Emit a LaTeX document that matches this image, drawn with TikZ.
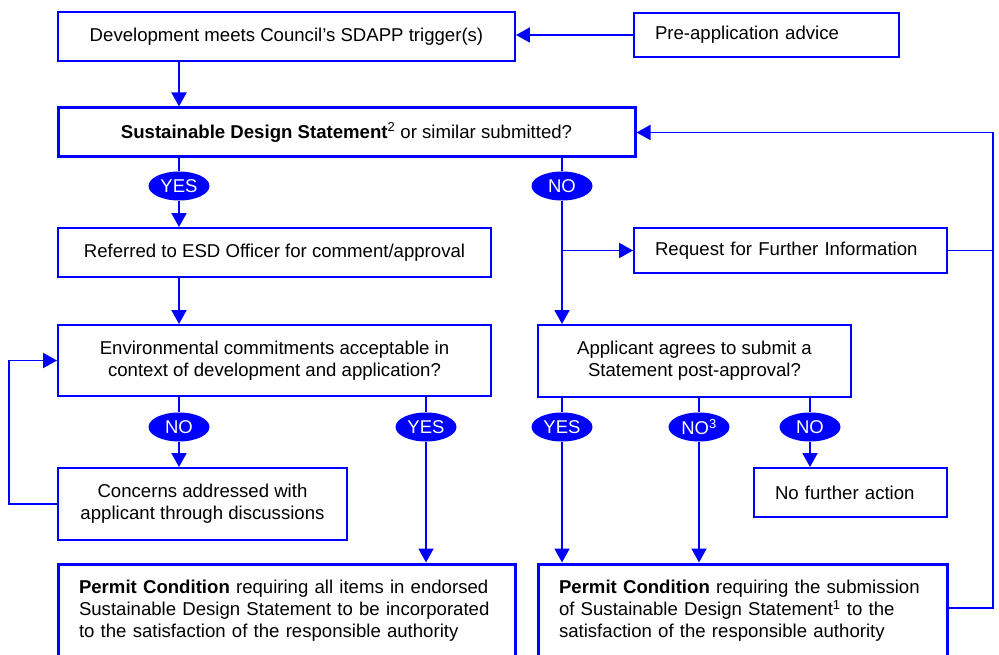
\documentclass[tikz,border=0pt]{standalone}
\usepackage{fontspec}
\setmainfont{Liberation Sans}
\usetikzlibrary{arrows.meta,shapes.geometric}
\definecolor{flowblue}{RGB}{0,0,255}
\begin{document}
\begin{tikzpicture}[x=1pt,y=-1pt,
  box/.style={draw=flowblue, line width=1.9pt, fill=white, rectangle, inner sep=0pt,
    align=center, font=\fontsize{18.6}{22}\selectfont},
  keybox/.style={box, line width=3pt},
  leftbox/.style={box, align=left, inner xsep=21pt},
  pill/.style={ellipse, fill=flowblue, text=white, inner sep=0pt, minimum width=61pt,
    minimum height=29pt, font=\fontsize{18.5}{20}\selectfont},
  link/.style={draw=flowblue, line width=1.9pt},
  arr/.style={link, -{Triangle[length=14pt,width=15pt]}},
]
\useasboundingbox (0,0) rectangle (999,655);

% boxes
\node[box, minimum width=457pt, minimum height=49pt] (dev) at (286.5,36.5)
  {Development meets Council’s SDAPP trigger(s)};
\node[leftbox, text width=223pt, minimum height=44pt] (pre) at (766.5,35)
  {Pre-application advice};
\node[keybox, minimum width=577pt, minimum height=49pt] (sds) at (346.5,132.5)
  {\textbf{Sustainable Design Statement}\textsuperscript{2} or similar submitted?};
\node[box, minimum width=433pt, minimum height=49pt] (esd) at (274.5,252.5)
  {Referred to ESD Officer for comment/approval};
\node[leftbox, text width=271pt, minimum height=45pt] (rfi) at (790.5,250.5)
  {Request for Further Information};
\node[box, minimum width=433pt, minimum height=71pt] (env) at (274.5,360.5)
  {Environmental commitments acceptable in\\context of development and application?};
\node[box, minimum width=313pt, minimum height=72pt] (agree) at (694.5,361)
  {Applicant agrees to submit a\\Statement post-approval?};
\node[box, minimum width=289pt, minimum height=72pt] (talk) at (202.5,504)
  {Concerns addressed with\\applicant through discussions};
\node[leftbox, text width=151pt, minimum height=49pt] (nfa) at (850.5,492.5)
  {No further action};
\node[keybox, align=left, inner xsep=21pt, text width=415pt, minimum height=94pt] (permA) at (286.5,611)
  {\textbf{Permit Condition} requiring all items in endorsed\\Sustainable Design Statement to be incorporated\\to the satisfaction of the responsible authority};
\node[keybox, align=left, inner xsep=21pt, text width=367pt, minimum height=94pt] (permB) at (742.5,611)
  {\textbf{Permit Condition} requiring the submission\\of Sustainable Design Statement\textsuperscript{1} to the\\satisfaction of the responsible authority};

% decision labels
\node[pill] (sdsyes) at (179,186) {YES};
\node[pill] (sdsno) at (562,186) {NO};
\node[pill] (envno) at (179,427) {NO};
\node[pill] (envyes) at (426,427) {YES};
\node[pill] (agyes) at (562,427) {YES};
\node[pill] (agno3) at (699,427) {NO\textsuperscript{3}};
\node[pill] (agno) at (810,427) {NO};

\coordinate (loop) at (993,0);

% connectors
\draw[arr] (pre.west) -- (pre.west -| dev.east);
\draw[arr] (sdsyes |- dev.south) -- (sdsyes |- sds.north);
\draw[link] (sdsyes |- sds.south) -- (sdsyes.north);
\draw[arr] (sdsyes.south) -- (sdsyes |- esd.north);
\draw[arr] (sdsyes |- esd.south) -- (sdsyes |- env.north);
\draw[link] (envno |- env.south) -- (envno.north);
\draw[arr] (envno.south) -- (envno |- talk.north);
\draw[link] (envyes |- env.south) -- (envyes.north);
\draw[arr] (envyes.south) -- (envyes |- permA.north);
\draw[arr] (talk.west) -- ++(-48,0) |- (env.west);

\draw[link] (sdsno |- sds.south) -- (sdsno.north);
\draw[arr] (sdsno.south) -- (sdsno |- agree.north);
\draw[arr] (sdsno |- rfi.west) -- (rfi.west);
\draw[link] (rfi.east) -- (rfi.east -| loop);
\draw[arr] ([yshift=3pt]permB.east) -| (loop |- sds.east) -- (sds.east);

\draw[link] (agyes |- agree.south) -- (agyes.north);
\draw[arr] (agyes.south) -- (agyes |- permB.north);
\draw[link] (agno3 |- agree.south) -- (agno3.north);
\draw[arr] (agno3.south) -- (agno3 |- permB.north);
\draw[link] (agno |- agree.south) -- (agno.north);
\draw[arr] (agno.south) -- (agno |- nfa.north);
\end{tikzpicture}
\end{document}
